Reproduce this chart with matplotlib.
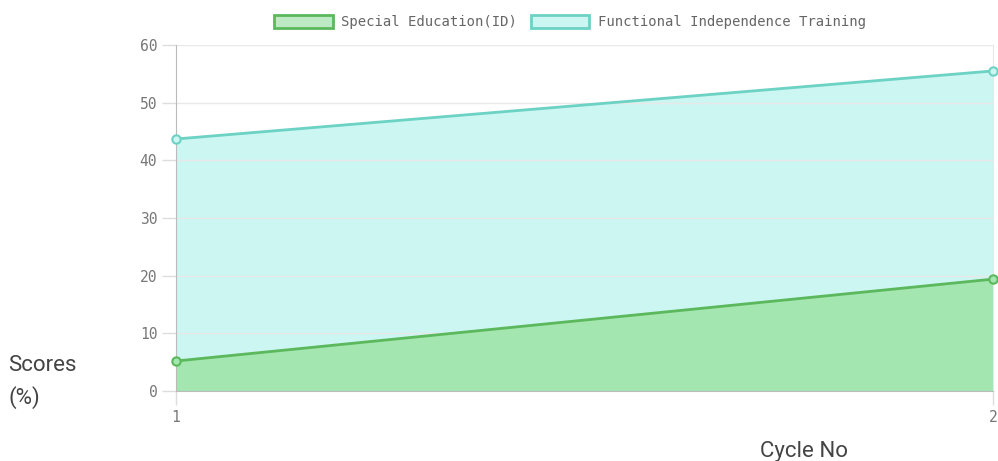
import matplotlib.pyplot as plt
from matplotlib.patches import Patch

cycles = [1, 2]
special_ed = [5.2, 19.4]
functional = [43.7, 55.5]
labels = ["Special Education(ID)", "Functional Independence Training"]

green_line = "#5cb85c"
green_fill = "#a3e6b0"
cyan_line = "#6cd2c4"
cyan_fill = "#ccf6f1"

fig = plt.figure(figsize=(9.98, 4.61), dpi=100)
ax = fig.add_axes([176 / 998, 70 / 461, 817 / 998, 346 / 461])

# cyan first, green on top
ax.fill_between(cycles, functional, 0, color=cyan_fill, zorder=1)
ax.plot(cycles, functional, color=cyan_line, lw=2, marker="o", ms=6,
        mfc=cyan_fill, mec=cyan_line, mew=1.5, zorder=4, clip_on=False)
ax.fill_between(cycles, special_ed, 0, color=green_fill, zorder=2)
ax.plot(cycles, special_ed, color=green_line, lw=2, marker="o", ms=6,
        mfc=green_fill, mec=green_line, mew=1.5, zorder=5, clip_on=False)

ax.set_xlim(1, 2)
ax.set_ylim(0, 60)
ax.set_xticks(cycles)
ax.set_yticks(range(0, 61, 10))
ax.grid(axis="y", color="#e8e8e8", lw=1, zorder=0)
ax.grid(axis="x", visible=False)
ax.spines["top"].set_visible(False)
ax.spines["left"].set_color("#bbbbbb")
ax.spines["bottom"].set_color("#bbbbbb")
ax.spines["right"].set_color("#e8e8e8")
ax.tick_params(colors="#dddddd", length=10, width=1, labelcolor="#777777",
               labelsize=10.5)
for t in ax.get_xticklabels() + ax.get_yticklabels():
    t.set_family("DejaVu Sans Mono")

handles = [Patch(facecolor="#bde9c4", edgecolor=green_line, lw=2),
           Patch(facecolor=cyan_fill, edgecolor=cyan_line, lw=2)]
fig.legend(handles, labels, loc="center", bbox_to_anchor=(570 / 998, 1 - 22 / 461),
           ncol=2, frameon=False, handlelength=4.2, handleheight=1.1,
           columnspacing=1.0, handletextpad=0.6,
           prop={"family": "DejaVu Sans Mono", "size": 10})
for t in fig.legends[0].get_texts():
    t.set_color("#666666")

fig.text(8 / 998, 1 - 365 / 461, "Scores", family="Roboto", size=16,
         color="#444444", va="center", ha="left")
fig.text(8 / 998, 1 - 398 / 461, "(%)", family="Roboto", size=16,
         color="#444444", va="center", ha="left")
fig.text(804 / 998, 1 - 451 / 461, "Cycle No", family="Roboto", size=16,
         color="#444444", va="center", ha="center")

fig.savefig("out.png", dpi=100)
